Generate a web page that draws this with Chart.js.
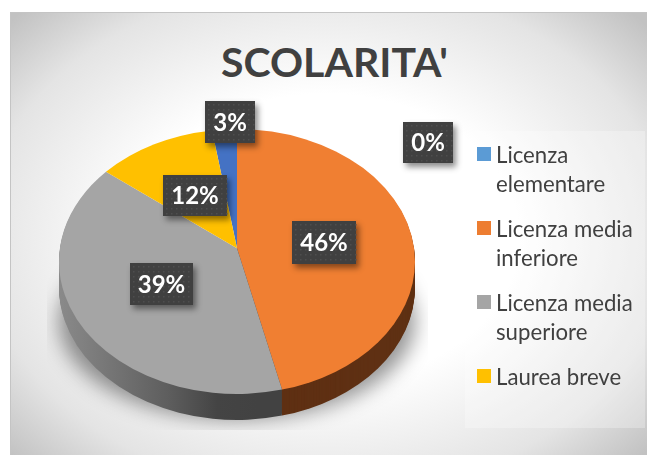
<!DOCTYPE html>
<html>
<head>
<meta charset="utf-8">
<script src="https://cdn.jsdelivr.net/npm/chart.js@4"></script>
<style>
html, body { margin: 0; padding: 0; background: #fff; overflow: hidden; }
#frame {
    position: absolute; left: 10px; top: 12px; width: 637px; height: 443px;
    box-sizing: border-box; border: 1px solid #c4c4c4; border-width: 1px 0 0 1px;
    background: radial-gradient(ellipse 430px 320px at 315px 225px, #fff 0%, #fff 45%, #e4e4e4 80%, #c2c2c2 100%);
}
#title {
    position: absolute; left: 221px; top: 37px; font: bold 41px Lato, sans-serif;
    color: #404040; white-space: nowrap;
}
#legend {
    position: absolute; left: 465px; top: 131px; width: 180px; height: 297px;
    background: rgba(255,255,255,0.28); font: 22.2px/29px Lato, sans-serif; color: #404040;
}
.item { position: absolute; left: 31px; white-space: pre; }
.swatch { position: absolute; left: -19px; top: 7px; width: 14px; height: 14px; }
canvas { position: absolute; left: 0; top: 0; }
</style>
</head>
<body>
<div id="frame"></div>
<div id="title">SCOLARITA'</div>
<canvas id="myChart" width="647" height="455"></canvas>
<div id="legend"></div>
<script>
// chart data
const categories = ['Licenza elementare', 'Licenza media inferiore', 'Licenza media superiore', 'Laurea breve', ''];
const shares = [2.6, 46.49, 38.5, 12.41, 0];
const sliceColors = ['#4472C4', '#F07F32', '#A5A5A5', '#FFC000', '#5B9BD5'];
const legendColors = ['#5B9BD5', '#ED7D31', '#A5A5A5', '#FFC000'];
const legendLines = ['Licenza\nelementare', 'Licenza media\ninferiore', 'Licenza media\nsuperiore', 'Laurea breve'];

// where the tilted pie sits and where the label boxes go
const pieCenterY = 261.5;
const tilt = 0.744;
const depth = 26;
const apexShift = 0.1; // perspective: the slices meet above the middle of the ellipse
const warpShift = 0.075;
const labelBoxes = [
    { x: 205, y: 101, w: 50, h: 42 },
    { x: 292, y: 221, w: 64, h: 43 },
    { x: 130, y: 263, w: 63, h: 42 },
    { x: 163, y: 175, w: 64, h: 41 },
    { x: 403, y: 122, w: 50, h: 41 }
];

const legendTops = [9, 83, 157, 231];
const legend = document.getElementById('legend');
legendLines.forEach((text, i) => {
    const item = document.createElement('div');
    item.className = 'item';
    item.style.top = legendTops[i] + 'px';
    item.textContent = text;
    const swatch = document.createElement('span');
    swatch.className = 'swatch';
    swatch.style.background = legendColors[i];
    item.appendChild(swatch);
    legend.appendChild(item);
});

function tiltContext(chart, ctx, drop) {
    const area = chart.chartArea;
    const cx = (area.left + area.right) / 2;
    const cy = (area.top + area.bottom) / 2;
    ctx.translate(cx, pieCenterY + drop);
    ctx.scale(1, tilt);
    ctx.translate(-cx, -cy);
}

// moves an arc angle the way the perspective does
function warp(angle) {
    let phi = angle + Math.PI / 2;
    phi = Math.atan2(Math.sin(phi), Math.cos(phi));
    const f = (1 - warpShift) / (1 + warpShift);
    return 2 * Math.atan(f * Math.tan(phi / 2)) - Math.PI / 2;
}

function slicePath(ctx, cx, cy, r, arc, apex) {
    const a = warp(arc.startAngle);
    let b = warp(arc.endAngle);
    if (b <= a) b += Math.PI * 2;
    ctx.beginPath();
    ctx.moveTo(cx, cy - apex * r);
    ctx.arc(cx, cy, r, a, b);
    ctx.closePath();
}

// pie is drawn here from the arc elements so it gets the side wall and perspective
const pie3d = {
    id: 'pie3d',
    beforeDatasetsDraw(chart) {
        const ctx = chart.ctx;
        const arcs = chart.getDatasetMeta(0).data;
        const area = chart.chartArea;
        const cx = (area.left + area.right) / 2;
        const cy = (area.top + area.bottom) / 2;
        const r = arcs[0].outerRadius;

        // soft shadow only (shape itself is off canvas), cut off square like in the original
        ctx.save();
        ctx.beginPath();
        ctx.rect(47, 250, 381, 180);
        ctx.clip();
        ctx.shadowColor = 'rgba(0,0,0,0.42)';
        ctx.shadowBlur = 20;
        ctx.shadowOffsetX = 1000;
        ctx.fillStyle = '#000';
        ctx.beginPath();
        ctx.ellipse(cx - 1000, pieCenterY + 60, r, 98, 0, 0, Math.PI * 2);
        ctx.fill();
        ctx.restore();

        const wall = ctx.createLinearGradient(cx - r, 0, cx + 20, 0);
        wall.addColorStop(0, '#8a8a8a');
        wall.addColorStop(0.55, '#5e5e5e');
        wall.addColorStop(0.8, '#444444');
        wall.addColorStop(1, '#424242');
        for (let d = depth; d > 0; d--) {
            ctx.save();
            tiltContext(chart, ctx, d);
            arcs.forEach((arc, i) => {
                if (i !== 1 && i !== 2) return;
                ctx.fillStyle = i === 1 ? '#5F3013' : wall;
                slicePath(ctx, cx, cy, r, arc, 0);
                ctx.fill();
            });
            ctx.restore();
        }

        ctx.save();
        tiltContext(chart, ctx, 0);
        arcs.forEach(arc => {
            if (arc.endAngle - arc.startAngle <= 0) return;
            ctx.fillStyle = arc.options.backgroundColor;
            slicePath(ctx, cx, cy, r, arc, apexShift);
            ctx.fill();
        });
        ctx.restore();
        return false;
    },
    afterDraw(chart) {
        const ctx = chart.ctx;
        const values = chart.data.datasets[0].data;
        labelBoxes.forEach((box, i) => {
            ctx.save();
            ctx.shadowColor = 'rgba(0,0,0,0.45)';
            ctx.shadowBlur = 6;
            ctx.shadowOffsetX = 3;
            ctx.shadowOffsetY = 4;
            ctx.fillStyle = '#404040';
            ctx.fillRect(box.x, box.y, box.w, box.h);
            ctx.restore();
            // dotted texture of the label fill
            ctx.fillStyle = '#4e4e4e';
            for (let px = box.x + 3; px < box.x + box.w; px += 5) {
                for (let py = box.y + 3; py < box.y + box.h; py += 5) {
                    ctx.fillRect(px, py, 1.5, 1.5);
                }
            }
            ctx.fillStyle = '#fff';
            ctx.font = 'bold 24px Lato, sans-serif';
            ctx.textAlign = 'center';
            ctx.textBaseline = 'middle';
            ctx.fillText(Math.round(values[i]) + '%', box.x + box.w / 2, box.y + box.h / 2 + 1);
        });
    }
};

const config = {
    type: 'pie',
    data: {
        labels: categories,
        datasets: [{
            data: shares,
            backgroundColor: sliceColors,
            borderWidth: 0
        }]
    },
    options: {
        responsive: false,
        animation: false,
        rotation: -(shares[0] / 100) * 360,
        layout: {
            padding: { left: 59, right: 232, top: 49, bottom: 50 }
        },
        plugins: {
            legend: { display: false },
            tooltip: { enabled: false }
        }
    },
    plugins: [pie3d]
};

let myChart = new Chart(document.getElementById('myChart'), config);
</script>
</body>
</html>
